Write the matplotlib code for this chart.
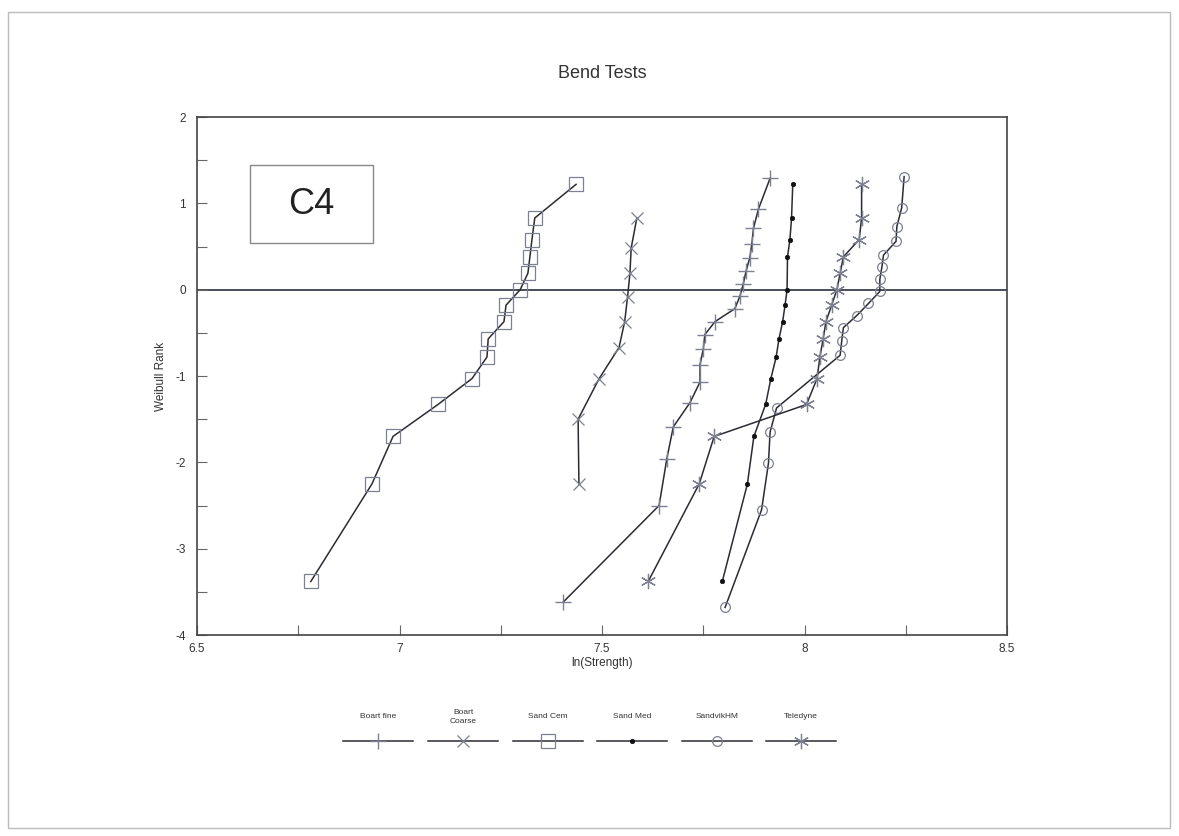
import matplotlib
matplotlib.use("Agg")
import matplotlib.pyplot as plt
from matplotlib.lines import Line2D
from matplotlib.patches import Rectangle
from matplotlib.ticker import MultipleLocator

plt.rcParams['font.family'] = ['Liberation Sans', 'DejaVu Sans']
plt.rcParams['axes.unicode_minus'] = False

# ln(strength) and Weibull rank for each material
boart_fine_x = [7.404, 7.641, 7.660, 7.676, 7.717, 7.742, 7.742, 7.750, 7.754, 7.779,
                7.828, 7.841, 7.849, 7.856, 7.865, 7.870, 7.874, 7.886, 7.915]
boart_fine_y = [-3.62, -2.50, -1.96, -1.59, -1.31, -1.07, -0.87, -0.69, -0.52, -0.37,
                -0.22, -0.07, 0.07, 0.22, 0.37, 0.53, 0.71, 0.93, 1.29]

boart_coarse_x = [7.443, 7.441, 7.493, 7.542, 7.556, 7.563, 7.569, 7.572, 7.586]
boart_coarse_y = [-2.25, -1.50, -1.03, -0.67, -0.37, -0.09, 0.19, 0.48, 0.83]

sand_cem_x = [6.781, 6.932, 6.984, 7.095, 7.179, 7.216, 7.219, 7.258, 7.263, 7.298,
              7.317, 7.322, 7.327, 7.334, 7.436]
sand_cem_y = [-3.38, -2.25, -1.70, -1.33, -1.03, -0.78, -0.57, -0.37, -0.18, 0.00,
              0.19, 0.38, 0.58, 0.83, 1.22]

sand_med_x = [7.797, 7.859, 7.875, 7.904, 7.917, 7.930, 7.937, 7.946, 7.952, 7.957,
              7.958, 7.964, 7.968, 7.971]
sand_med_y = [-3.38, -2.25, -1.70, -1.33, -1.03, -0.78, -0.57, -0.37, -0.18, 0.00,
              0.38, 0.58, 0.83, 1.22]

sandvik_x = [7.804, 7.894, 7.911, 7.915, 7.931, 8.088, 8.092, 8.096, 8.129, 8.158,
             8.186, 8.186, 8.191, 8.195, 8.226, 8.228, 8.240, 8.246]
sandvik_y = [-3.68, -2.55, -2.01, -1.65, -1.37, -0.76, -0.59, -0.44, -0.30, -0.16,
             -0.02, 0.12, 0.26, 0.40, 0.56, 0.73, 0.95, 1.31]

teledyne_x = [7.614, 7.740, 7.777, 8.005, 8.031, 8.038, 8.046, 8.053, 8.067, 8.080,
              8.088, 8.096, 8.135, 8.141, 8.141]
teledyne_y = [-3.38, -2.25, -1.70, -1.33, -1.03, -0.78, -0.57, -0.37, -0.18, 0.00,
              0.19, 0.38, 0.58, 0.83, 1.22]

legend_labels = ['Boart fine', 'Boart\nCoarse', 'Sand Cem', 'Sand Med', 'SandvikHM', 'Teledyne']

line_col = '#2b2b33'
mark_col = '#7c8090'
asterisk = (6, 2, 0)

styles = [
    dict(marker='+', ms=11, mfc='none', mec=mark_col, mew=1.0),
    dict(marker='x', ms=9, mfc='none', mec=mark_col, mew=0.9),
    dict(marker='s', ms=10.5, mfc='none', mec=mark_col, mew=0.9),
    dict(marker='o', ms=3.2, mfc='#111111', mec='#111111', mew=0.5),
    dict(marker='o', ms=7, mfc='none', mec=mark_col, mew=0.9),
    dict(marker=asterisk, ms=11, mfc='none', mec=mark_col, mew=0.9),
]
series = [(boart_fine_x, boart_fine_y), (boart_coarse_x, boart_coarse_y),
          (sand_cem_x, sand_cem_y), (sand_med_x, sand_med_y),
          (sandvik_x, sandvik_y), (teledyne_x, teledyne_y)]

W, H = 1179, 836
fig = plt.figure(figsize=(W / 100, H / 100), dpi=100)
ax = fig.add_axes([197 / W, 1 - 635 / H, 810 / W, 518 / H])

for (xs, ys), st in zip(series, styles):
    ax.plot(xs, ys, color=line_col, lw=1.1, **st)

ax.axhline(0, color='#3a3f4a', lw=1.3, zorder=1)

ax.set_xlim(6.5, 8.5)
ax.set_ylim(-4, 2)
ax.xaxis.set_major_locator(MultipleLocator(0.5))
ax.xaxis.set_minor_locator(MultipleLocator(0.25))
ax.yaxis.set_major_locator(MultipleLocator(1))
ax.yaxis.set_minor_locator(MultipleLocator(0.5))
ax.xaxis.set_major_formatter(plt.FuncFormatter(lambda v, p: f'{v:g}'))
ax.tick_params(which='both', direction='in', length=7, width=0.8, color='#666',
               labelsize=8.5, labelcolor='#333')
ax.tick_params(axis='x', pad=6)
ax.tick_params(axis='y', pad=8)
for s in ax.spines.values():
    s.set_color('#444')
    s.set_linewidth(1.2)

ax.set_xlabel('ln(Strength)', fontsize=8.5, color='#333', labelpad=1)
ax.set_ylabel('Weibull Rank', fontsize=8.5, color='#333', labelpad=6)
ax.set_title('Bend Tests', fontsize=13, color='#333', pad=28)

# sample label box
ax.add_patch(Rectangle(((250 - 197) / 810, (635 - 243) / 518), 123 / 810, 78 / 518,
                       transform=ax.transAxes, fill=False, ec='#888', lw=1.0))
ax.text((311 - 197) / 810, (635 - 204) / 518, 'C4', transform=ax.transAxes,
        ha='center', va='center', fontsize=26, color='#222')

# legend row: label above a short line sample
centers = [378, 463, 548, 632, 717, 801]
for cx, lab, st in zip(centers, legend_labels, styles):
    fig.add_artist(Line2D([(cx - 35) / W, (cx + 35) / W], [1 - 741 / H] * 2,
                          transform=fig.transFigure, color=line_col, lw=1.1))
    fig.add_artist(Line2D([cx / W], [1 - 741 / H], transform=fig.transFigure,
                          linestyle='none', **st))
    fig.text(cx / W, 1 - 717 / H, lab, ha='center', va='center', fontsize=6,
             color='#333', linespacing=1.3)

# page border
fig.add_artist(Rectangle((8 / W, 1 - 828 / H), 1162 / W, 816 / H,
                         transform=fig.transFigure, fill=False, ec='#bbb', lw=1.0))

fig.savefig('out.png', dpi=100)
